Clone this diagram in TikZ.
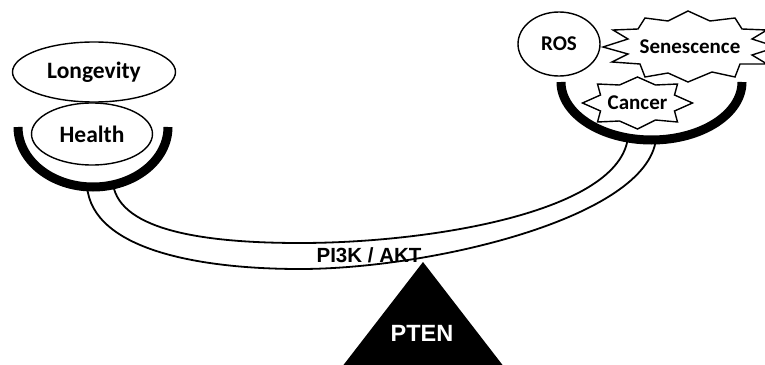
\documentclass[tikz,border=0pt]{standalone}
\usepackage{fontspec}
\newfontfamily\calib{Carlito}
\newfontfamily\arialf{Liberation Sans}
\usetikzlibrary{shapes.geometric}

\begin{document}
\begin{tikzpicture}[x=1pt,y=-1pt,
  bubble/.style={ellipse,draw,line width=1.4pt,inner sep=0pt,
    font=\calib\bfseries\fontsize{23.5}{27}\selectfont},
  burst/.style={draw,fill=white,line width=1.4pt,line join=miter},
  bursttext/.style={inner sep=0pt,font=\calib\bfseries\fontsize{21}{25}\selectfont},
  pan/.style={line width=9pt},
  beam/.style={line width=1.8pt},
  label/.style={font=\arialf\bfseries\fontsize{20.5}{24}\selectfont,inner sep=0pt}]
\useasboundingbox (0,0) rectangle (765,364);
\clip (0,0) rectangle (765,364);

% anchor points of the lever
\coordinate (la) at (87,186);
\coordinate (lb) at (113,184);
\coordinate (ra) at (656,139);
\coordinate (rb) at (628,137);
\coordinate (umid) at (300,243);
\coordinate (lmid) at (300,269);

% the lever beam
\draw[beam] (lb) .. controls (120,232) and (210,243) .. (umid)
  .. controls (430,243) and (620,212) .. (rb);
\draw[beam] (la) .. controls (92,250) and (200,269) .. (lmid)
  .. controls (430,269) and (647,218) .. (ra);

% the two pans
\draw[pan] (18,127) arc[start angle=180,end angle=0,x radius=75,y radius=60];
\draw[pan] (561,82) arc[start angle=180,end angle=0,x radius=90.5,y radius=58];

% fulcrum
\coordinate (apex) at (423,262);
\fill (apex) -- (339.6,370) -- (506.4,370) -- cycle;
\node[label,text=white,font=\arialf\bfseries\fontsize{23.5}{27}\selectfont] (pten) at (422,333) {PTEN};
\node[label] (pathway) at (369,255) {PI3K / AKT};

% left pan contents
\node[bubble,minimum width=163pt,minimum height=60pt] (longevity) at (94,72) {Longevity};
\node[bubble,minimum width=121pt,minimum height=62pt] (health) at (92,134) {Health};

% right pan contents: senescence burst
\coordinate (sc) at (690,47);
\draw[burst,shift={(sc)}]
  (-87,0) -- (-62,-8) -- (-77,-17) -- (-52,-18) -- (-45,-29) -- (-22,-26)
  -- (-2,-36) -- (20,-26) -- (45,-29) -- (52,-18) -- (77,-17) -- (62,-8)
  -- (87,0) -- (62,8) -- (77,17) -- (50,17) -- (45,30) -- (22,25)
  -- (-2,35) -- (-22,26) -- (-45,30) -- (-50,17) -- (-78,15) -- (-62,7) -- cycle;
\node[bursttext] (senescence) at (sc) {Senescence};

\node[bubble,font=\calib\bfseries\fontsize{21}{25}\selectfont,
  minimum width=82pt,minimum height=64pt] (ros) at (559,44) {ROS};

% right pan contents: cancer burst
\coordinate (cc) at (637.5,103);
\draw[burst,shift={(cc)}]
  (-55,0) -- (-37,-8) -- (-40,-19) -- (-18,-18) -- (0,-26) -- (18,-18)
  -- (40,-19) -- (37,-8) -- (55,0) -- (37,8) -- (40,19) -- (18,17)
  -- (0,26) -- (-18,18) -- (-40,19) -- (-37,8) -- cycle;
\node[bursttext] (cancer) at (cc) {Cancer};
\end{tikzpicture}
\end{document}
